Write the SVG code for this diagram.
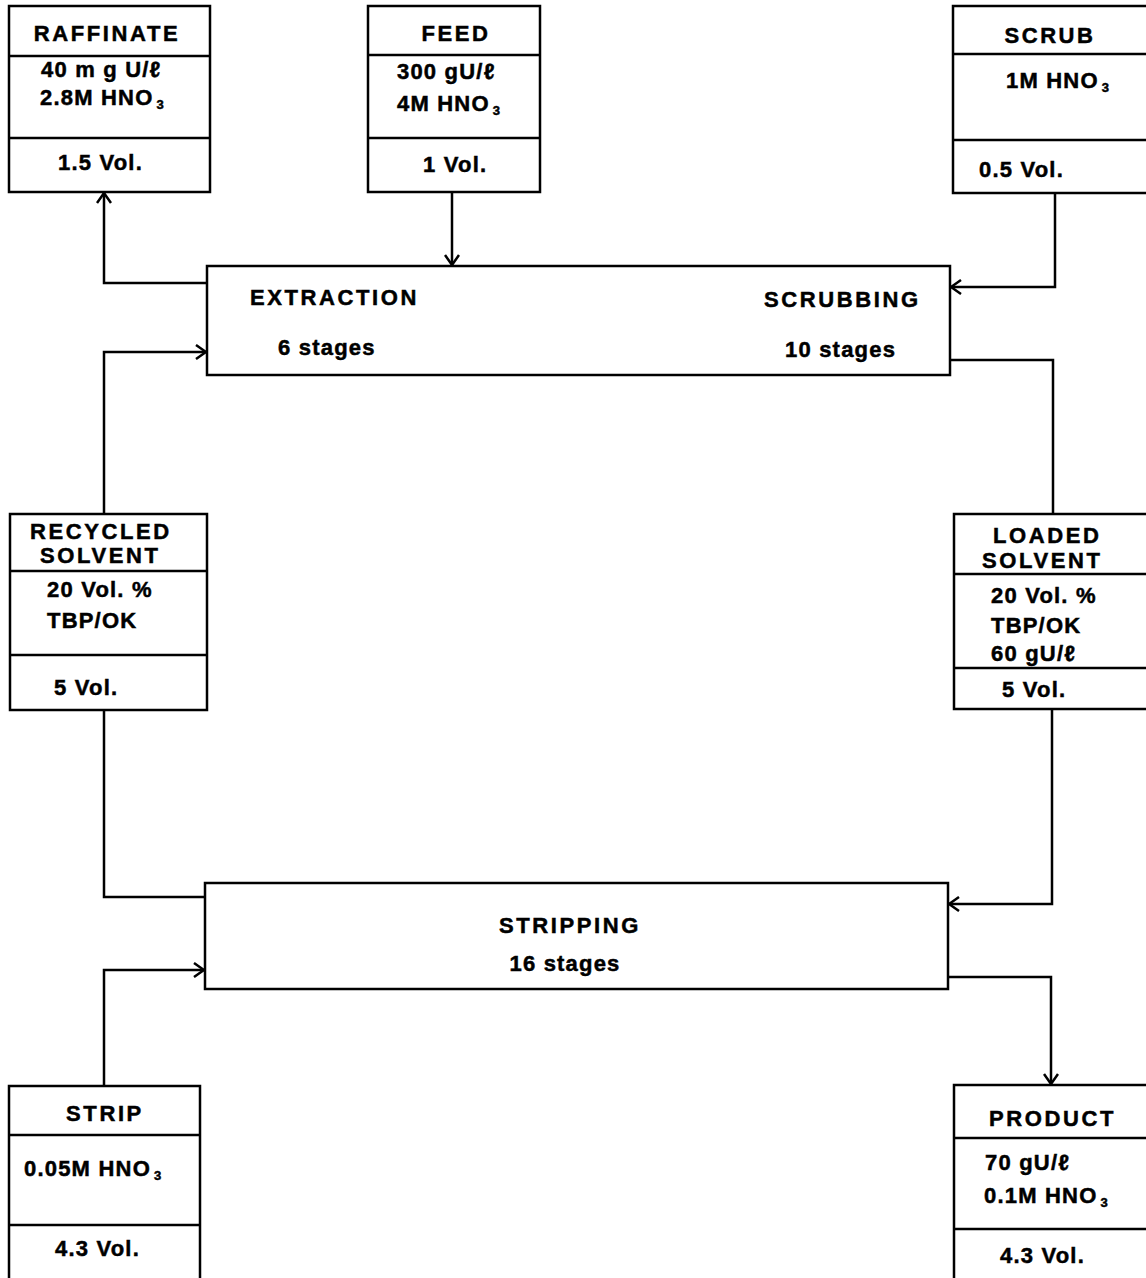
<svg xmlns="http://www.w3.org/2000/svg" width="1146" height="1278" viewBox="0 0 1146 1278">
<style>
.box{fill:none;stroke:#000;stroke-width:2.5}
.ln{stroke:#000;stroke-width:2.5;fill:none}
.c{fill:none;stroke:#000;stroke-width:2.5}
text{font-family:"Liberation Sans",Arial,sans-serif;font-weight:bold;fill:#000;stroke:#000;stroke-width:0.5;font-size:22px;letter-spacing:1.2px}
.h{letter-spacing:2.6px}
.m{text-anchor:middle}
.s{font-size:13px;letter-spacing:0}
</style>
<defs>
<marker id="arr" viewBox="0 0 12 16" refX="11" refY="8" markerWidth="12" markerHeight="16" markerUnits="userSpaceOnUse" orient="auto">
<path d="M1,1 L11,8 L1,15" fill="none" stroke="#000" stroke-width="2.5"/>
</marker>
</defs>
<rect width="1146" height="1278" fill="#fff"/>

<g id="raffinate">
<rect class="box" x="9" y="6" width="201" height="186"/>
<line class="ln" x1="9" y1="56" x2="210" y2="56"/>
<line class="ln" x1="9" y1="138" x2="210" y2="138"/>
<text class="h m" x="107" y="41">RAFFINATE</text>
<text x="41" y="77">40 m g U/ℓ</text>
<text x="40" y="105">2.8M HNO<tspan class="s" dx="3" dy="4">3</tspan></text>
<text x="58" y="170">1.5 Vol.</text>
</g>

<g id="feed">
<rect class="box" x="368" y="6" width="172" height="186"/>
<line class="ln" x1="368" y1="55" x2="540" y2="55"/>
<line class="ln" x1="368" y1="138" x2="540" y2="138"/>
<text class="h m" x="456" y="41">FEED</text>
<text x="397" y="79">300 gU/ℓ</text>
<text x="397" y="111">4M HNO<tspan class="s" dx="3" dy="4">3</tspan></text>
<text x="423" y="172">1 Vol.</text>
</g>

<g id="scrub">
<rect class="box" x="953" y="6" width="200" height="187"/>
<line class="ln" x1="953" y1="54" x2="1150" y2="54"/>
<line class="ln" x1="953" y1="140" x2="1150" y2="140"/>
<text class="h m" x="1050" y="43">SCRUB</text>
<text x="1006" y="88">1M HNO<tspan class="s" dx="3" dy="4">3</tspan></text>
<text x="979" y="177">0.5 Vol.</text>
</g>

<g id="extraction-scrubbing">
<rect class="box" x="207" y="266" width="743" height="109"/>
<text class="h" x="250" y="305">EXTRACTION</text>
<text x="278" y="355">6 stages</text>
<text class="h" x="764" y="307">SCRUBBING</text>
<text x="785" y="357">10 stages</text>
</g>

<g id="recycled-solvent">
<rect class="box" x="10" y="514" width="197" height="196"/>
<line class="ln" x1="10" y1="571" x2="207" y2="571"/>
<line class="ln" x1="10" y1="655" x2="207" y2="655"/>
<text class="h" x="30" y="539">RECYCLED</text>
<text class="h" x="40" y="563">SOLVENT</text>
<text x="47" y="597">20 Vol. %</text>
<text x="47" y="628">TBP/OK</text>
<text x="54" y="695">5 Vol.</text>
</g>

<g id="loaded-solvent">
<rect class="box" x="954" y="514" width="200" height="195"/>
<line class="ln" x1="954" y1="574" x2="1150" y2="574"/>
<line class="ln" x1="954" y1="668" x2="1150" y2="668"/>
<text class="h" x="993" y="543">LOADED</text>
<text class="h" x="982" y="568">SOLVENT</text>
<text x="991" y="603">20 Vol. %</text>
<text x="991" y="633">TBP/OK</text>
<text x="991" y="661">60 gU/ℓ</text>
<text x="1002" y="697">5 Vol.</text>
</g>

<g id="stripping">
<rect class="box" x="205" y="883" width="743" height="106"/>
<text class="h m" x="570" y="933">STRIPPING</text>
<text class="m" x="565" y="971">16 stages</text>
</g>

<g id="strip">
<rect class="box" x="9" y="1086" width="191" height="200"/>
<line class="ln" x1="9" y1="1135" x2="200" y2="1135"/>
<line class="ln" x1="9" y1="1225" x2="200" y2="1225"/>
<text class="h m" x="105" y="1121">STRIP</text>
<text x="24" y="1176">0.05M  HNO<tspan class="s" dx="3" dy="4">3</tspan></text>
<text x="55" y="1256">4.3 Vol.</text>
</g>

<g id="product">
<rect class="box" x="954" y="1085" width="200" height="200"/>
<line class="ln" x1="954" y1="1138" x2="1150" y2="1138"/>
<line class="ln" x1="954" y1="1229" x2="1150" y2="1229"/>
<text class="h" x="989" y="1126">PRODUCT</text>
<text x="985" y="1170">70 gU/ℓ</text>
<text x="984" y="1203">0.1M HNO<tspan class="s" dx="3" dy="4">3</tspan></text>
<text x="1000" y="1263">4.3 Vol.</text>
</g>

<g id="connectors">
<path class="c" d="M452,192 V265" marker-end="url(#arr)"/>
<path class="c" d="M1055,193 V287 H951" marker-end="url(#arr)"/>
<path class="c" d="M207,283 H104 V193" marker-end="url(#arr)"/>
<path class="c" d="M104,514 V352 H206" marker-end="url(#arr)"/>
<path class="c" d="M950,360 H1053 V514"/>
<path class="c" d="M1052,709 V904 H949" marker-end="url(#arr)"/>
<path class="c" d="M104,710 V897 H205"/>
<path class="c" d="M104,1086 V970 H204" marker-end="url(#arr)"/>
<path class="c" d="M948,977 H1051 V1084" marker-end="url(#arr)"/>
</g>
</svg>
